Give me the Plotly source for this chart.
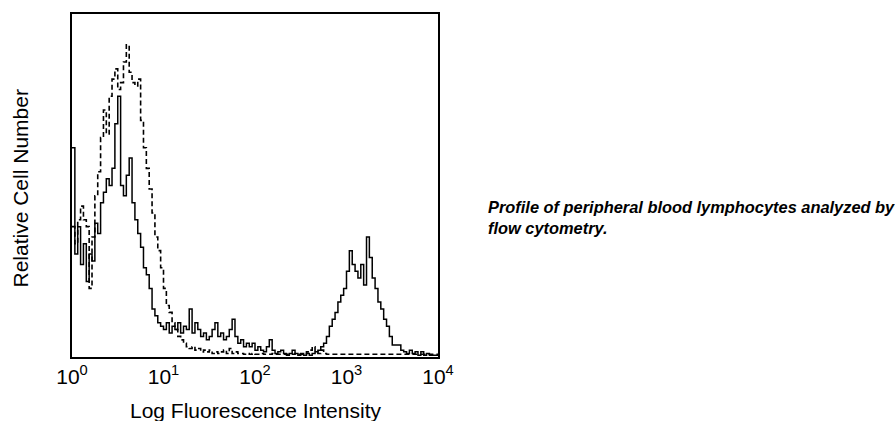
import plotly.graph_objects as go

# 128 log-spaced channels spanning 10^0 .. 10^4 (32 channels per decade)
channels_per_decade = 32

# Relative cell counts (percent of plot height) per channel
solid_counts = [
    61, 30, 38, 27, 33, 22, 30, 28, 39, 36, 45, 48, 52, 50, 55, 68,
    76, 50, 47, 53, 58, 45, 40, 36, 32, 26, 24, 20, 14, 12, 10, 9,
    8, 10, 7, 9, 8, 10, 7, 9, 8, 14, 7, 10, 8, 6, 7, 5,
    6, 8, 10, 6, 7, 5, 6, 8, 11, 6, 4, 5, 3, 4, 3, 4,
    2, 3, 2, 1.5, 3, 5, 2, 1, 1.5, 2, 1, 0.5, 1, 2, 1, 0.5,
    1, 0.5, 1, 0.5, 1, 1.5, 2, 3, 4, 6, 9, 11, 13, 16, 18, 20,
    25, 31, 27, 25, 23, 27, 21, 35, 29, 23, 20, 16, 14, 11, 9, 6,
    3.5, 3.5, 3.5, 2, 1.5, 1, 2, 1, 1.5, 0.5, 1.5, 0.5, 1, 0.5, 0.5, 0.5,
]

dashed_counts = [
    38, 33, 40, 44, 40, 38, 20, 35, 47, 54, 64, 72, 65, 76, 81, 84,
    78, 80, 86, 91, 83, 80, 79, 81, 69, 61, 55, 49, 42, 35, 31, 26,
    20, 15, 13, 10, 8, 6, 5, 4, 3, 2.5, 3, 2, 2.5, 1.5, 2, 1.5,
    2, 1, 1.5, 1, 1.5, 2, 1, 2.5, 1, 1.5, 1, 1, 0.8, 1, 0.8, 1,
    0.8, 0.8, 1, 0.8, 0.8, 0.8, 1, 0.8, 0.8, 0.8, 0.8, 0.8, 0.8, 0.8, 1, 0.8,
    0.8, 1, 1.5, 2, 3, 1.5, 1, 2, 1, 0.8, 0.8, 0.8, 0.8, 0.8, 0.8, 0.8,
    0.8, 0.8, 0.8, 0.8, 0.8, 0.8, 0.8, 0.8, 0.8, 0.8, 0.8, 0.8, 0.8, 0.8, 0.8, 0.8,
    0.8, 0.8, 0.8, 0.8, 0.8, 0.8, 0.8, 0.8, 0.8, 0.8, 0.8, 0.8, 0.8, 0.8, 0.8, 0.8,
]

tick_values = [1, 10, 100, 1000, 10000]
tick_labels = ["10<sup>0</sup>", "10<sup>1</sup>", "10<sup>2</sup>", "10<sup>3</sup>", "10<sup>4</sup>"]

x_title = "Log Fluorescence Intensity"
y_title = "Relative Cell Number"
caption = "Profile of peripheral blood lymphocytes analyzed by<br>flow cytometry."


def channel_edges(n):
    # left edge of each channel plus the closing right edge
    return [10 ** (c / channels_per_decade) for c in range(n + 1)]


def step_trace(counts, dash, width):
    xs = channel_edges(len(counts))
    ys = list(counts) + [counts[-1]]
    return go.Scatter(
        x=xs, y=ys, mode="lines",
        line=dict(color="black", width=width, dash=dash, shape="hv"),
        showlegend=False, hoverinfo="skip",
    )


fig = go.Figure()
fig.add_trace(step_trace(dashed_counts, "5px,3px", 1.6))
fig.add_trace(step_trace(solid_counts, "solid", 1.5))

font_family = "Liberation Sans, Arial, sans-serif"

fig.update_layout(
    width=895, height=421,
    margin=dict(l=72, r=457, t=14, b=64),
    paper_bgcolor="white", plot_bgcolor="white",
    font=dict(family=font_family, color="black", size=20),
    xaxis=dict(
        type="log", range=[0, 4],
        tickvals=tick_values, ticktext=tick_labels,
        showgrid=False, zeroline=False, ticks="",
        showline=True, linecolor="black", linewidth=2, mirror=True,
        tickfont=dict(size=21, family=font_family, color="black"),
    ),
    yaxis=dict(
        range=[0, 100], showticklabels=False, ticks="",
        showgrid=False, zeroline=False,
        showline=True, linecolor="black", linewidth=2, mirror=True,
    ),
    annotations=[
        dict(text=x_title, xref="paper", yref="paper", x=0.5, y=0,
             yshift=-53, xanchor="center", yanchor="middle", showarrow=False,
             font=dict(size=21, family=font_family, color="black")),
        dict(text=y_title, xref="paper", yref="paper", x=0, y=0.5,
             xshift=-52, yshift=-3, xanchor="center", yanchor="middle",
             textangle=-90, showarrow=False,
             font=dict(size=21, family=font_family, color="black")),
        dict(text="<b><i>" + caption + "</i></b>", xref="paper", yref="paper",
             x=1, y=0.5, xshift=48, yshift=-32, xanchor="left", yanchor="middle",
             align="left", showarrow=False,
             font=dict(size=16.4, family=font_family, color="black")),
    ],
)

fig.write_html(
    "out.html",
    config={"displayModeBar": False, "staticPlot": True},
    post_script="document.body.style.margin='0';document.body.style.overflow='hidden';",
)
